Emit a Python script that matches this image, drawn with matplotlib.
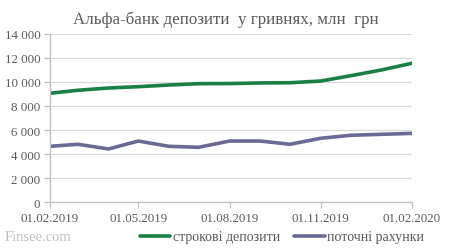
import matplotlib
matplotlib.use("Agg")
import matplotlib.pyplot as plt
import matplotlib.dates as mdates
from matplotlib.ticker import FuncFormatter
import datetime as dt

dates = [dt.date(2019, 2, 1), dt.date(2019, 3, 1), dt.date(2019, 4, 1), dt.date(2019, 5, 1),
         dt.date(2019, 6, 1), dt.date(2019, 7, 1), dt.date(2019, 8, 1), dt.date(2019, 9, 1),
         dt.date(2019, 10, 1), dt.date(2019, 11, 1), dt.date(2019, 12, 1), dt.date(2020, 1, 1),
         dt.date(2020, 2, 1)]
term_deposits = [9060, 9310, 9500, 9610, 9750, 9860, 9870, 9920, 9940, 10080, 10520, 11000, 11560]
current_accounts = [4640, 4810, 4420, 5080, 4640, 4560, 5080, 5080, 4810, 5310, 5560, 5640, 5720]
tick_dates = [dt.date(2019, 2, 1), dt.date(2019, 5, 1), dt.date(2019, 8, 1),
              dt.date(2019, 11, 1), dt.date(2020, 2, 1)]
series_names = ["строкові депозити", "поточні рахунки"]
title = "Альфа-банк депозити  у гривнях, млн  грн"

green = "#1a7f45"
purple = "#6b6a97"
txt = "#595959"
font = "Liberation Serif"

fig = plt.figure(figsize=(4.51, 2.53), dpi=100)
ax = fig.add_axes([50/451, 1-203/253, 362/451, 168/253])
ax.plot(dates, term_deposits, color=green, lw=2.6, solid_capstyle="round", label=series_names[0])
ax.plot(dates, current_accounts, color=purple, lw=2.6, solid_capstyle="round", label=series_names[1])

ax.set_ylim(0, 14000)
ax.set_yticks(range(0, 14001, 2000))
ax.yaxis.set_major_formatter(FuncFormatter(lambda v, p: f"{int(v):,}".replace(",", " ")))
ax.set_xlim(dates[0], dates[-1])
ax.set_xticks(tick_dates)
ax.xaxis.set_major_formatter(mdates.DateFormatter("%d.%m.%Y"))
ax.grid(axis="y", color="#d9d9d9", lw=0.9)
ax.set_axisbelow(True)
for s in ["top", "right"]:
    ax.spines[s].set_visible(False)
for s in ["left", "bottom"]:
    ax.spines[s].set_color("#bfbfbf")
    ax.spines[s].set_linewidth(0.9)
ax.tick_params(axis="both", colors="#bfbfbf", labelcolor=txt, labelsize=9.3, length=4, width=0.9)
ax.tick_params(axis="y", pad=3)
ax.tick_params(axis="x", pad=3)
for lab in ax.get_xticklabels() + ax.get_yticklabels():
    lab.set_fontfamily(font)

fig.text(0.5, 1-20/253, title, ha="center", va="center", fontsize=12.2, color=txt, family=font)
fig.text(5/451, 1-238/253, "Finsee.com", ha="left", va="center", fontsize=10.5, color="#c0c0c0", family=font)
leg = fig.legend(loc="center", bbox_to_anchor=(282/451, 1-238/253), ncol=2, frameon=False,
                 prop={"family": font, "size": 10}, handlelength=2.2, handletextpad=0.2,
                 columnspacing=1.0)
for t in leg.get_texts():
    t.set_color(txt)

fig.savefig("out.png", dpi=100)
